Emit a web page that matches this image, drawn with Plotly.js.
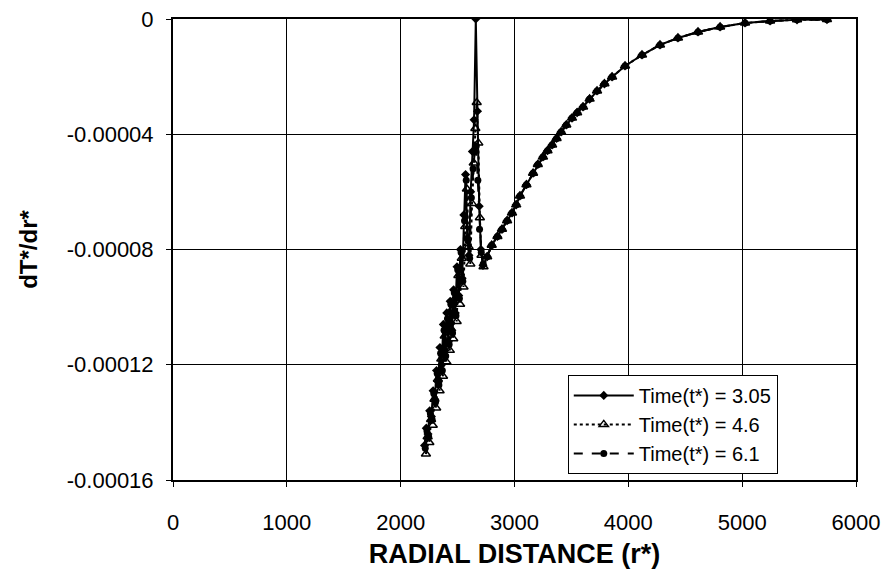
<!DOCTYPE html>
<html>
<head>
<meta charset="utf-8">
<script src="https://cdn.plot.ly/plotly-3.0.1.min.js"></script>
<style>html,body{margin:0;padding:0;background:#fff;}#chart{width:881px;height:583px;}</style>
</head>
<body>
<div id="chart"></div>
<script>
// Shared far-field branch (all three times nearly coincide here)
const farR = [2760, 2800, 2850, 2890, 2935, 2978, 3015, 3048, 3105, 3163, 3205, 3250, 3290, 3330, 3370, 3409, 3455, 3505, 3550, 3602, 3660, 3725, 3790, 3857, 3971, 4120, 4278, 4436, 4612, 4806, 5025, 5245, 5482, 5745];
const farY = [-8.25e-5, -7.85e-5, -7.55e-5, -7.3e-5, -7.0e-5, -6.73e-5, -6.45e-5, -6.14e-5, -5.75e-5, -5.35e-5, -5.05e-5, -4.79e-5, -4.57e-5, -4.37e-5, -4.15e-5, -3.92e-5, -3.68e-5, -3.44e-5, -3.25e-5, -3.05e-5, -2.78e-5, -2.50e-5, -2.25e-5, -2.01e-5, -1.63e-5, -1.25e-5, -0.90e-5, -0.66e-5, -0.45e-5, -0.28e-5, -0.14e-5, -0.07e-5, -0.03e-5, -0.02e-5];

// Near-field (noisy) part for each time
const r1 = [2210, 2225, 2240, 2255, 2270, 2285, 2300, 2315, 2330, 2345, 2360, 2375, 2390, 2405, 2420, 2435, 2450, 2465, 2480, 2495, 2510, 2525, 2540, 2555, 2570, 2585, 2600, 2615, 2630, 2645, 2660, 2675, 2690, 2705, 2723];
const y1 = [-14.8e-5, -14.2e-5, -14.4e-5, -13.6e-5, -13.8e-5, -12.9e-5, -13.2e-5, -12.2e-5, -12.6e-5, -11.4e-5, -12.0e-5, -10.6e-5, -11.5e-5, -10.2e-5, -11.2e-5, -9.8e-5, -10.8e-5, -9.4e-5, -10.2e-5, -8.6e-5, -9.6e-5, -8.0e-5, -9.0e-5, -6.8e-5, -5.4e-5, -7.6e-5, -8.2e-5, -6.0e-5, -4.6e-5, -3.5e-5, 0, -3.2e-5, -6.5e-5, -8.0e-5, -8.55e-5];

const r2 = [2222, 2237, 2252, 2267, 2282, 2297, 2312, 2327, 2342, 2357, 2372, 2387, 2402, 2417, 2432, 2447, 2462, 2477, 2492, 2507, 2522, 2537, 2552, 2567, 2582, 2597, 2612, 2627, 2642, 2656, 2668, 2682, 2696, 2710, 2728];
const y2 = [-15.1e-5, -14.5e-5, -14.7e-5, -13.9e-5, -14.1e-5, -13.2e-5, -13.5e-5, -12.5e-5, -12.9e-5, -11.8e-5, -12.4e-5, -11.0e-5, -11.9e-5, -10.6e-5, -11.5e-5, -10.1e-5, -11.1e-5, -9.7e-5, -10.5e-5, -8.9e-5, -9.9e-5, -8.3e-5, -9.3e-5, -7.2e-5, -5.9e-5, -7.9e-5, -8.5e-5, -6.4e-5, -5.0e-5, -3.8e-5, -2.9e-5, -4.3e-5, -6.9e-5, -8.2e-5, -8.6e-5];

const r3 = [2216, 2231, 2246, 2261, 2276, 2291, 2306, 2321, 2336, 2351, 2366, 2381, 2396, 2411, 2426, 2441, 2456, 2471, 2486, 2501, 2516, 2531, 2546, 2561, 2576, 2591, 2606, 2621, 2636, 2650, 2663, 2678, 2693, 2708, 2725];
const y3 = [-14.9e-5, -14.3e-5, -14.5e-5, -13.7e-5, -13.9e-5, -13.0e-5, -13.3e-5, -12.3e-5, -12.7e-5, -11.6e-5, -12.2e-5, -10.8e-5, -11.7e-5, -10.4e-5, -11.3e-5, -9.9e-5, -10.9e-5, -9.5e-5, -10.3e-5, -8.7e-5, -9.7e-5, -8.1e-5, -9.1e-5, -7.0e-5, -5.6e-5, -7.7e-5, -8.3e-5, -6.2e-5, -5.2e-5, -4.6e-5, -4.4e-5, -5.6e-5, -7.3e-5, -8.1e-5, -8.5e-5];

const seriesNames = ['Time(t*) = 3.05', 'Time(t*) = 4.6', 'Time(t*) = 6.1'];
const xTickVals = [0, 1000, 2000, 3000, 4000, 5000, 6000];
const yTickVals = [0, -0.00004, -0.00008, -0.00012, -0.00016];
const yTickText = ['0', '-0.00004', '-0.00008', '-0.00012', '-0.00016'];

const font = 'Liberation Sans, Arial, sans-serif';

const traces = [
  {x: r1.concat(farR), y: y1.concat(farY), name: seriesNames[0], mode: 'lines+markers',
   line: {color: '#000', width: 2, dash: 'solid'}, marker: {symbol: 'diamond', size: 7, color: '#000'}},
  {x: r2.concat(farR), y: y2.concat(farY), name: seriesNames[1], mode: 'lines+markers',
   line: {color: '#000', width: 2, dash: 'dot'}, marker: {symbol: 'triangle-up-open', size: 8, color: '#000', line: {width: 1.5, color: '#000'}}},
  {x: r3.concat(farR), y: y3.concat(farY), name: seriesNames[2], mode: 'lines+markers',
   line: {color: '#000', width: 2, dash: 'dash'}, marker: {symbol: 'circle', size: 7, color: '#000'}}
];

const layout = {
  width: 881, height: 583,
  margin: {l: 173, r: 25, t: 19, b: 103},
  paper_bgcolor: '#fff', plot_bgcolor: '#fff',
  font: {family: font, color: '#000', size: 22},
  showlegend: true,
  legend: {x: 0.578, y: 0.228, xanchor: 'left', yanchor: 'top', bgcolor: '#fff',
           bordercolor: '#000', borderwidth: 1, font: {family: font, size: 20, color: '#000'},
           itemwidth: 60, tracegroupgap: 0},
  xaxis: {range: [0, 6000], tickvals: xTickVals, ticks: 'outside', ticklen: 5, tickcolor: '#000',
          showline: true, linecolor: '#000', linewidth: 2, mirror: true,
          showgrid: true, gridcolor: '#000', gridwidth: 1, zeroline: false,
          tickfont: {family: font, size: 22}, ticklabelstandoff: 17,
          title: {text: '<b>RADIAL DISTANCE (r*)</b>', font: {family: font, size: 27}, standoff: 10}},
  yaxis: {range: [-0.00016, 0], tickvals: yTickVals, ticktext: yTickText, ticks: 'outside', ticklen: 5, tickcolor: '#000',
          showline: true, linecolor: '#000', linewidth: 2, mirror: true,
          showgrid: true, gridcolor: '#000', gridwidth: 1, zeroline: false,
          tickfont: {family: font, size: 22}, ticklabelstandoff: 8,
          title: {text: '<b>dT*/dr*</b>', font: {family: font, size: 24}, standoff: 22}}
};

Plotly.newPlot('chart', traces, layout, {displayModeBar: false, staticPlot: true});
</script>
</body>
</html>
